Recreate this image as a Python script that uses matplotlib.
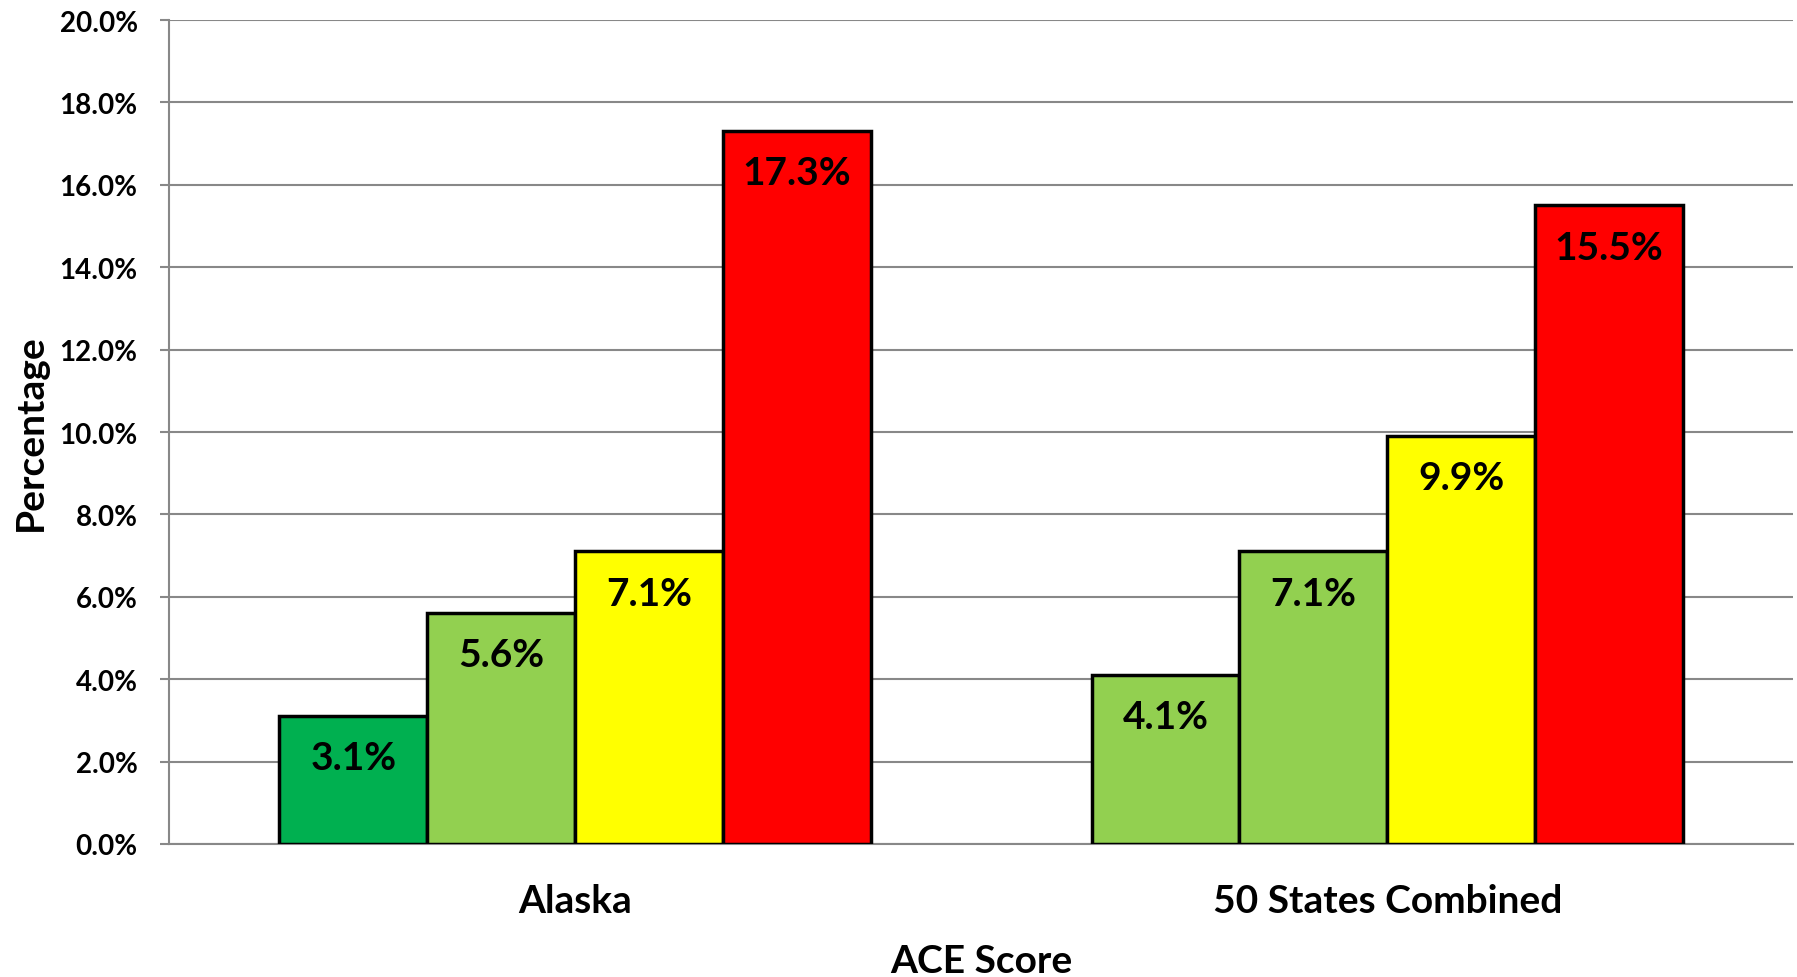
import matplotlib.pyplot as plt
from matplotlib.ticker import PercentFormatter

plt.rcParams['font.family'] = ['Lato', 'DejaVu Sans']
plt.rcParams['font.weight'] = 'bold'

# data
categories = ['Alaska', '50 States Combined']
alaska_vals = [3.1, 5.6, 7.1, 17.3]
states_vals = [4.1, 7.1, 9.9, 15.5]
alaska_colors = ['#00B050', '#92D050', '#FFFF00', '#FF0000']
states_colors = ['#92D050', '#92D050', '#FFFF00', '#FF0000']
y_ticks = [0, 2, 4, 6, 8, 10, 12, 14, 16, 18, 20]

fig = plt.figure(figsize=(17.97, 9.78), dpi=100)
ax = fig.add_axes([0.094, 0.136, 0.904, 0.8425])

w = 0.182
groups = [
    (0, alaska_vals, alaska_colors),
    (1, states_vals, states_colors),
]
for xc, vals, cols in groups:
    n = len(vals)
    xs = [xc + (i - (n - 1) / 2) * w for i in range(n)]
    bars = ax.bar(xs, vals, width=w, color=cols, edgecolor='black',
                  linewidth=2.5, zorder=3)
    for b, v in zip(bars, vals):
        ax.annotate(f'{v:.1f}%', (b.get_x() + b.get_width() / 2, v),
                    xytext=(0, -30), textcoords='offset points',
                    ha='center', va='center', fontsize=28,
                    fontweight='bold', color='black', zorder=4)

ax.set_xlim(-0.5, 1.5)
ax.set_ylim(0, 20)
ax.set_yticks(y_ticks)
ax.yaxis.set_major_formatter(PercentFormatter(decimals=1))
ax.set_xticks([0, 1])
ax.set_xticklabels(categories, fontsize=28, fontweight='bold')
ax.tick_params(axis='x', length=0, pad=28)
ax.tick_params(axis='y', length=6.5, width=1.5, color='#888888',
               labelsize=20, pad=16)
for lbl in ax.get_yticklabels():
    lbl.set_fontweight('bold')

ax.grid(axis='y', color='#888888', linewidth=1.5, zorder=0)
for s in ['top', 'right']:
    ax.spines[s].set_visible(False)
for s in ['left', 'bottom']:
    ax.spines[s].set_color('#888888')
    ax.spines[s].set_linewidth(1.5)

ax.set_xlabel('ACE Score', fontsize=28, fontweight='bold', labelpad=18)
ax.set_ylabel('Percentage', fontsize=28, fontweight='bold', labelpad=8)

fig.savefig('out.png', dpi=100)
